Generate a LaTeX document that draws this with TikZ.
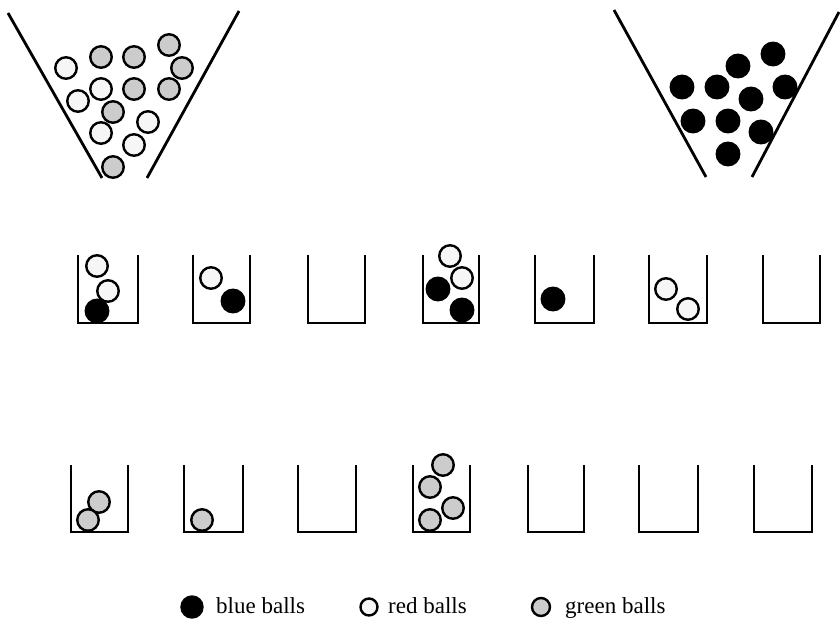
\documentclass[tikz,border=0pt]{standalone}
\usepackage{fontspec}
\setmainfont{Liberation Serif}
\begin{document}
\begin{tikzpicture}[x=1pt,y=-1pt,
  funnelline/.style={line width=2.8pt},
  cupline/.style={line width=2.2pt},
  ball/.style={circle,draw=black,line width=2.4pt,minimum size=21.5pt,inner sep=0pt},
  redball/.style={ball,fill=gray!7},
  greenball/.style={ball,fill=gray!40},
  blueball/.style={ball,fill=black,minimum size=22.5pt},
  legtext/.style={anchor=base west,inner sep=0pt,font=\fontsize{23}{26}\selectfont}]
\useasboundingbox (0,0) rectangle (840,628);
% top-left funnel
\draw[funnelline] (8,13) -- (102,178);
\draw[funnelline] (239,11) -- (147,178);
\node[redball] (l1) at (66,68) {};
\node[greenball] (l2) at (101,57) {};
\node[greenball] (l3) at (134,57) {};
\node[greenball] (l4) at (169,45) {};
\node[greenball] (l5) at (182,68) {};
\node[greenball] (l6) at (169,89) {};
\node[greenball] (l7) at (134,89) {};
\node[redball] (l8) at (101,89) {};
\node[redball] (l9) at (78,101) {};
\node[greenball] (l10) at (113,112) {};
\node[redball] (l11) at (148,122) {};
\node[redball] (l12) at (101,133) {};
\node[redball] (l13) at (134,145) {};
\node[greenball] (l14) at (113,167) {};
% top-right funnel
\draw[funnelline] (614,10) -- (706,177);
\draw[funnelline] (839,12) -- (752,177);
\node[blueball] (r1) at (773,54) {};
\node[blueball] (r2) at (738,66) {};
\node[blueball] (r3) at (682,87) {};
\node[blueball] (r4) at (717,87) {};
\node[blueball] (r5) at (785,87) {};
\node[blueball] (r6) at (751,99) {};
\node[blueball] (r7) at (693,121) {};
\node[blueball] (r8) at (728,121) {};
\node[blueball] (r9) at (761,132) {};
\node[blueball] (r10) at (728,154) {};
% middle row cups
\foreach \a/\b in {78/138,193/250,308/365,423/479,535/594,649/707,763/820}
  \draw[cupline] (\a,255) -- (\a,323) -- (\b,323) -- (\b,255);
\node[redball] (m1) at (97,266) {};
\node[redball] (m2) at (108,291) {};
\node[blueball] (m3) at (97,311) {};
\node[redball] (m4) at (211,278) {};
\node[blueball] (m5) at (233,301) {};
\node[redball] (m6) at (450,256) {};
\node[redball] (m7) at (462,278) {};
\node[blueball] (m8) at (438,289) {};
\node[blueball] (m9) at (462,310) {};
\node[blueball] (m10) at (553,299) {};
\node[redball] (m11) at (666,289) {};
\node[redball] (m12) at (688,309) {};
% bottom row cups
\foreach \a/\b in {71/128,184/243,298/356,413/470,528/584,639/698,754/812}
  \draw[cupline] (\a,465) -- (\a,532) -- (\b,532) -- (\b,465);
\node[greenball] (b1) at (99,502) {};
\node[greenball] (b2) at (88,520) {};
\node[greenball] (b3) at (202,520) {};
\node[greenball] (b4) at (443,465) {};
\node[greenball] (b5) at (430,487) {};
\node[greenball] (b6) at (453,508) {};
\node[greenball] (b7) at (430,520) {};
% legend
\node[blueball,minimum size=21pt] (kb) at (192,607) {};
\node[legtext] (tb) at (216,613) {blue balls};
\node[redball,minimum size=17pt] (kr) at (369,607) {};
\node[legtext] (tr) at (388,613) {red balls};
\node[greenball,minimum size=18pt] (kg) at (541,607) {};
\node[legtext] (tg) at (565,613) {green balls};
\end{tikzpicture}
\end{document}
